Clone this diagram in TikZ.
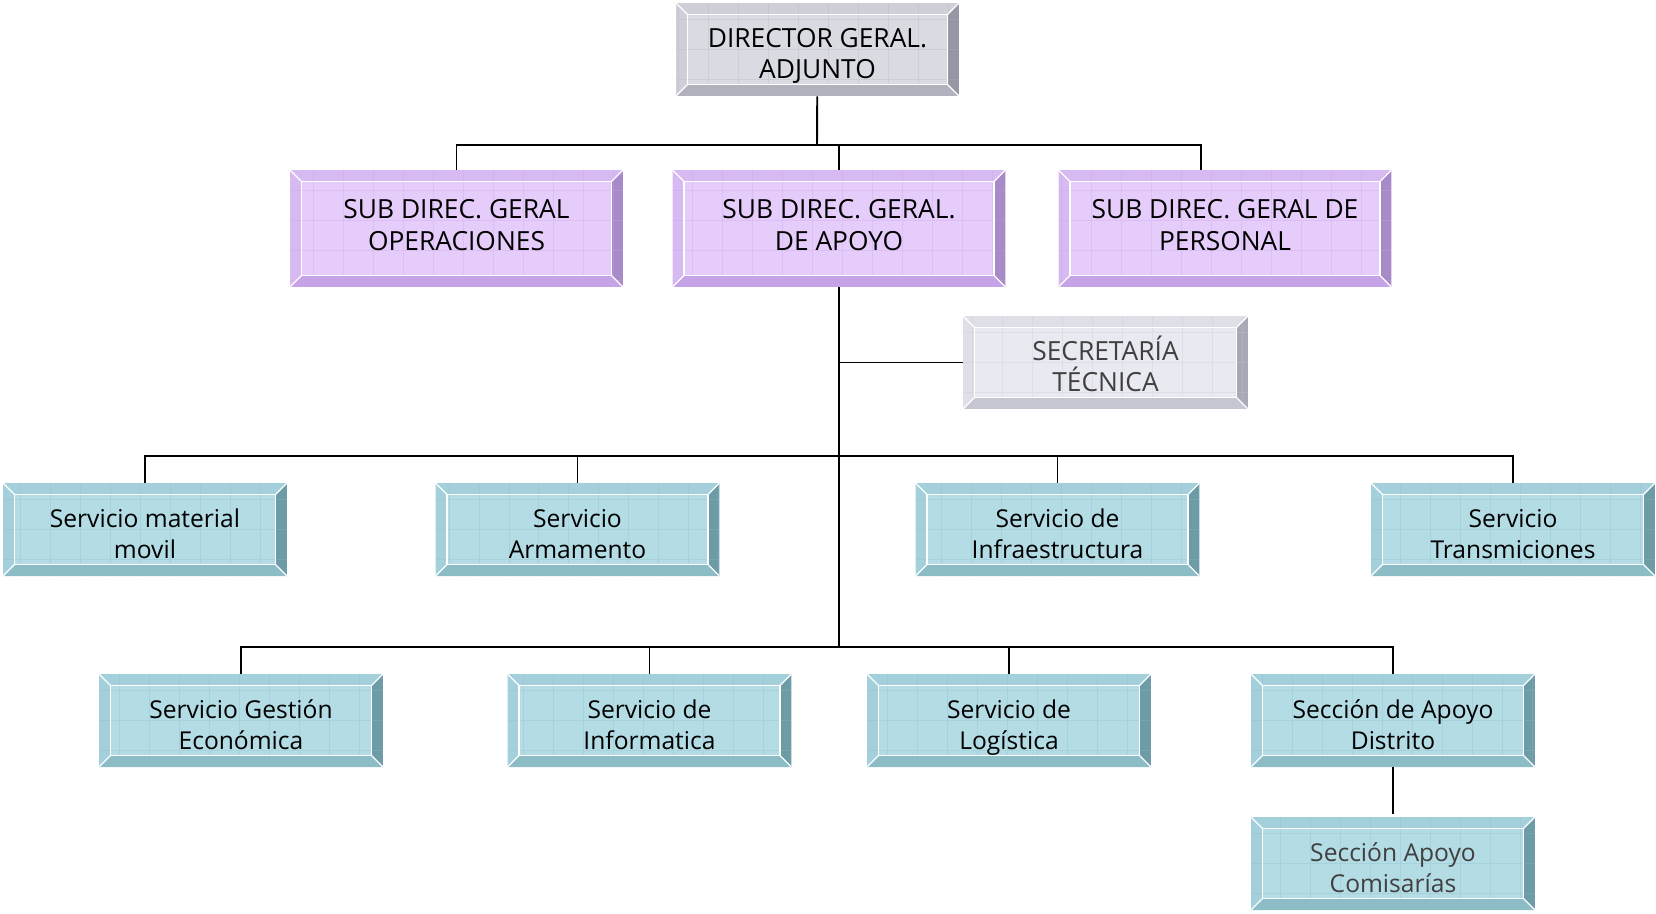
\documentclass[tikz,border=0pt]{standalone}
\usepackage{fontspec}
\setmainfont{Open Sans}
\usetikzlibrary{calc,positioning}
\definecolor{tealmain}{HTML}{B3DCE5}
\definecolor{tealtop}{HTML}{A3D0DA}
\definecolor{tealbot}{HTML}{8CBCC6}
\definecolor{tealrt}{HTML}{6E9CA6}
\definecolor{lilmain}{HTML}{E5CCFB}
\definecolor{liltop}{HTML}{D8BAF2}
\definecolor{lilbot}{HTML}{C6A2E6}
\definecolor{lilrt}{HTML}{A98AC8}
\definecolor{graymain}{HTML}{DADAE2}
\definecolor{graytop}{HTML}{CFCFD8}
\definecolor{graybot}{HTML}{B2B2BE}
\definecolor{grayrt}{HTML}{9696A4}
\definecolor{secmain}{HTML}{E9E9F1}
\definecolor{sectop}{HTML}{DFDFE8}
\definecolor{secbot}{HTML}{C6C6D2}
\definecolor{secrt}{HTML}{A8A8B6}
\newcommand\bw{6.5pt}
\tikzset{
 bevel/.style n args={4}{fill=#1,align=center,inner sep=0pt,
  text height=33.5pt,text depth=0pt,
  path picture={
   \coordinate (bsw) at (path picture bounding box.south west);
   \coordinate (bne) at (path picture bounding box.north east);
   \coordinate (bnw) at (bsw |- bne);
   \coordinate (bse) at (bne |- bsw);
   \fill[#2] (bnw)--(bne)--($(bne)+(-\bw,-\bw)$)--($(bnw)+(\bw,-\bw)$)--cycle;
   \fill[#2] (bnw)--(bsw)--($(bsw)+(\bw,\bw)$)--($(bnw)+(\bw,-\bw)$)--cycle;
   \fill[#3] (bsw)--(bse)--($(bse)+(-\bw,\bw)$)--($(bsw)+(\bw,\bw)$)--cycle;
   \fill[#4] (bse)--(bne)--($(bne)+(-\bw,-\bw)$)--($(bse)+(-\bw,\bw)$)--cycle;
   \draw[#3,opacity=.3,line width=.3pt,step=.6cm] (bsw) grid (bne);
   \draw[white,line width=.7pt] ($(bsw)+(\bw,\bw)$) rectangle ($(bne)+(-\bw,-\bw)$);
   \draw[white,line width=.7pt] (bsw)--++(\bw,\bw) (bse)--++(-\bw,\bw)
    (bne)--++(-\bw,-\bw) (bnw)--++(\bw,-\bw);
  }},
 bigtext/.style={font=\fontsize{15}{18}\selectfont},
 smalltext/.style={font=\fontsize{14}{18}\selectfont},
 dirbox/.style={bevel={graymain}{graytop}{graybot}{grayrt},bigtext,
  minimum width=5.66cm,minimum height=1.86cm},
 subbox/.style={bevel={lilmain}{liltop}{lilbot}{lilrt},bigtext,text height=25pt,
  minimum width=6.66cm,minimum height=2.34cm},
 secbox/.style={bevel={secmain}{sectop}{secbot}{secrt},bigtext,text=black!75,
  minimum width=5.7cm,minimum height=1.86cm},
 servbox/.style={bevel={tealmain}{tealtop}{tealbot}{tealrt},smalltext,
  minimum width=5.68cm,minimum height=1.86cm},
 link/.style={line width=1.1pt}
}
\begin{document}
\begin{tikzpicture}[x=.02cm,y=-.02cm]
\useasboundingbox (0,0) rectangle (1656,913);
% jefatura
\node[dirbox] (director) at (817.5,49.5) {DIRECTOR GERAL.\\ADJUNTO};
\node[subbox] (operac) at (456.5,228.5) {SUB DIREC. GERAL\\OPERACIONES};
\node[subbox] (apoyo) at (839,228.5) {SUB DIREC. GERAL.\\DE APOYO};
\node[subbox] (personal) at (1225,228.5) {SUB DIREC. GERAL DE\\PERSONAL};
\node[secbox] (secret) at (1105.5,362.5) {SECRETARÍA\\TÉCNICA};
% servicios
\node[servbox] (matmov) at (145,529.5) {Servicio material\\movil};
\node[servbox] (armam) at (577.5,529.5) {Servicio\\Armamento};
\node[servbox] (infra) at (1057.5,529.5) {Servicio de\\Infraestructura};
\node[servbox] (transm) at (1513,529.5) {Servicio\\Transmiciones};
\node[servbox] (gestion) at (241,720.5) {Servicio Gestión\\Económica};
\node[servbox] (inform) at (649.5,720.5) {Servicio de\\Informatica};
\node[servbox] (logist) at (1009,720.5) {Servicio de\\Logística};
\node[servbox] (distrito) at (1393,720.5) {Sección de Apoyo\\Distrito};
\node[servbox,text=black!75] (comisar) at (1393,863.5) {Sección Apoyo\\Comisarías};
% conexiones
\coordinate (busA) at (817,145);
\coordinate (persIn) at (1201,170);
\coordinate (busB) at (839,456);
\coordinate (busC) at (839,647);
\draw[link] (director) -- (busA);
\draw[link] (operac.north) |- (busA) -| (persIn);
\draw[link] (apoyo.north) -- (apoyo.north |- busA);
\draw[link] (apoyo.south) -- (busC);
\draw[link] (apoyo.south |- secret.west) -- (secret.west);
\draw[link] (matmov.north) |- (busB) -| (transm.north);
\foreach \n in {armam,infra}
{\draw[link] (\n.north) -- (\n.north |- busB);}
\draw[link] (gestion.north) |- (busC) -| (distrito.north);
\foreach \n in {inform,logist}
{\draw[link] (\n.north) -- (\n.north |- busC);}
\draw[link,shorten >=1.5pt] (distrito) -- (comisar);
\end{tikzpicture}
\end{document}
